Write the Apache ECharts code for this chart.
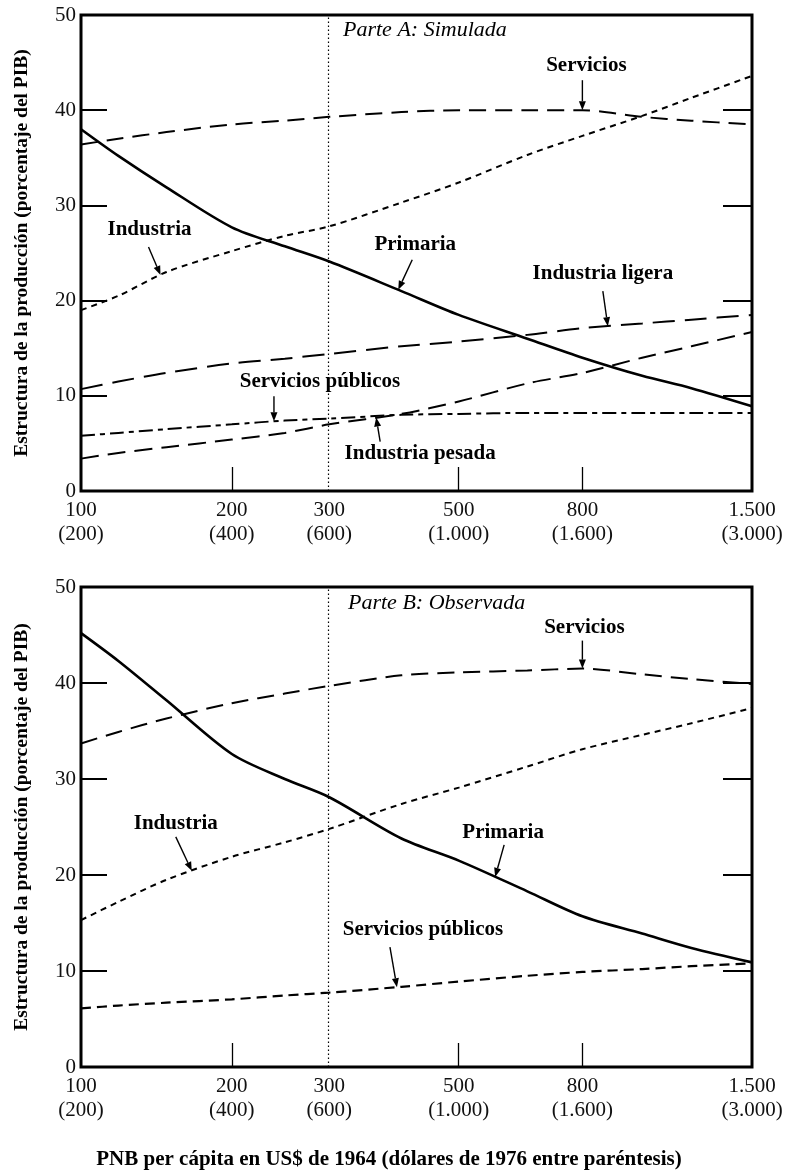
<!DOCTYPE html>
<html>
<head>
<meta charset="utf-8">
<script src="https://cdn.jsdelivr.net/npm/echarts@6/dist/echarts.min.js"></script>
<style>
  html, body { margin: 0; padding: 0; background: #fff; }
  #chart { width: 786px; height: 1175px; }
</style>
</head>
<body>
<div id="chart"></div>
<script>
// GNP per capita (1964 US$) at which each curve is sampled
const gnp = [100, 120, 150, 200, 250, 300, 400, 500, 650, 800, 1000, 1200, 1500];

// Axis tick values and their two-line labels (1964 $ and 1976 $ in parentheses)
const tickGnp = [100, 200, 300, 500, 800, 1500];
const tickLabel1964 = ['100', '200', '300', '500', '800', '1.500'];
const tickLabel1976 = ['(200)', '(400)', '(600)', '(1.000)', '(1.600)', '(3.000)'];
const minorTickGnp = [200, 500, 800];
const referenceGnp = 300;

// Parte A: simulated production structure (% of GDP)
const primariaA   = [38.0, 35.2, 31.9, 27.7, 25.7, 24.1, 21.0, 18.5, 16.0, 14.0, 12.1, 10.8, 8.9];
const serviciosA  = [36.4, 37.0, 37.7, 38.5, 38.9, 39.3, 39.8, 40.0, 40.0, 40.0, 39.3, 38.9, 38.5];
const industriaA  = [19.0, 20.5, 23.0, 25.2, 26.8, 27.8, 30.3, 32.4, 35.3, 37.3, 39.4, 41.3, 43.6];
const ligeraA     = [10.7, 11.5, 12.4, 13.4, 13.9, 14.4, 15.2, 15.7, 16.4, 17.1, 17.6, 18.0, 18.5];
const publicosA   = [5.8, 6.1, 6.5, 7.0, 7.4, 7.6, 8.0, 8.1, 8.2, 8.2, 8.2, 8.2, 8.2];
const pesadaA     = [3.4, 4.0, 4.6, 5.4, 6.1, 7.0, 8.1, 9.4, 11.3, 12.4, 14.0, 15.2, 16.7];

// Parte B: observed production structure (% of GDP)
const primariaB   = [45.2, 42.3, 38.2, 32.6, 30.0, 28.1, 23.8, 21.5, 18.3, 15.7, 13.9, 12.4, 10.9];
const serviciosB  = [33.7, 34.9, 36.3, 37.9, 38.9, 39.7, 40.8, 41.1, 41.3, 41.5, 40.9, 40.4, 39.9];
const industriaB  = [15.3, 17.2, 19.5, 21.9, 23.4, 24.8, 27.4, 29.1, 31.3, 33.1, 34.6, 35.8, 37.4];
const publicosB   = [6.1, 6.4, 6.7, 7.05, 7.45, 7.75, 8.35, 8.9, 9.5, 9.9, 10.2, 10.5, 10.8];

const FONT = '"Liberation Serif", "DejaVu Serif", serif';

// The income axis is logarithmic, offset so the low end is slightly compressed
const scaleX = g => Math.log10(g + 40);

function tickText(v) {
  const i = tickGnp.findIndex(t => Math.abs(scaleX(t) - v) < 1e-6);
  return i < 0 ? '' : tickLabel1964[i] + '\n' + tickLabel1976[i];
}

function xAxis(gridIndex) {
  return {
    type: 'value', gridIndex,
    min: scaleX(tickGnp[0]), max: scaleX(tickGnp[tickGnp.length - 1]),
    axisLine: { show: false },
    splitLine: { show: false },
    axisTick: {
      show: true, inside: true, length: 24,
      customValues: minorTickGnp.map(scaleX),
      lineStyle: { color: '#000', width: 1.3 }
    },
    axisLabel: {
      show: true, customValues: tickGnp.map(scaleX), formatter: tickText,
      fontFamily: FONT, fontSize: 21, lineHeight: 24, color: '#111', margin: 7
    }
  };
}

function yAxis(gridIndex, side) {
  return {
    type: 'value', gridIndex, position: side,
    min: 0, max: 50, interval: 10,
    axisLine: { show: false },
    splitLine: { show: false },
    axisTick: { show: true, inside: true, length: side === 'left' ? 26 : 29,
                lineStyle: { color: '#000', width: 2 } },
    axisLabel: { show: side === 'left', fontFamily: FONT, fontSize: 21, color: '#111', margin: 5 }
  };
}

function curve(name, values, grid, dash, width, withRef) {
  const s = {
    type: 'line', name,
    xAxisIndex: grid, yAxisIndex: grid * 2,
    data: gnp.map((g, i) => [scaleX(g), values[i]]),
    showSymbol: false, smooth: 0.3, silent: true,
    lineStyle: { color: '#000', width, type: dash, cap: 'butt' },
    z: 3
  };
  if (withRef) {
    s.markLine = {
      silent: true, symbol: 'none', label: { show: false },
      lineStyle: { color: '#000', type: [1.5, 2.5], width: 1.2 },
      data: [{ xAxis: scaleX(referenceGnp) }]
    };
  }
  return s;
}

const chart = echarts.init(document.getElementById('chart'), null, { renderer: 'canvas' });

chart.setOption({
  animation: false,
  backgroundColor: '#fff',
  grid: [
    { left: 81, top: 15, width: 671, height: 476, show: true, borderColor: '#000', borderWidth: 3, backgroundColor: 'transparent' },
    { left: 81, top: 587, width: 671, height: 480, show: true, borderColor: '#000', borderWidth: 3, backgroundColor: 'transparent' }
  ],
  xAxis: [xAxis(0), xAxis(1)],
  yAxis: [yAxis(0, 'left'), yAxis(0, 'right'), yAxis(1, 'left'), yAxis(1, 'right')],
  series: [
    curve('Primaria', primariaA, 0, 'solid', 2.6, true),
    curve('Servicios', serviciosA, 0, [17, 9], 2, false),
    curve('Industria', industriaA, 0, [6, 5], 2, false),
    curve('Industria ligera', ligeraA, 0, [22, 10], 2, false),
    curve('Servicios públicos', publicosA, 0, [14, 5, 5, 5], 2, false),
    curve('Industria pesada', pesadaA, 0, [18, 9], 2, false),
    curve('Primaria', primariaB, 1, 'solid', 2.6, true),
    curve('Servicios', serviciosB, 1, [17, 9], 2, false),
    curve('Industria', industriaB, 1, [6, 5], 2, false),
    curve('Servicios públicos', publicosB, 1, [10, 6], 2.2, false)
  ]
});

// Value of a curve at a given income, interpolated on the income scale
function valueAt(values, g) {
  const x = scaleX(g);
  for (let i = 0; i < gnp.length - 1; i++) {
    const x0 = scaleX(gnp[i]), x1 = scaleX(gnp[i + 1]);
    if (x >= x0 && x <= x1) {
      const t = (x - x0) / (x1 - x0);
      return values[i] + t * (values[i + 1] - values[i]);
    }
  }
  return values[values.length - 1];
}

// Curve labels with arrows: `at` is the income the arrow points to,
// `label` and `tail` are pixel offsets from the arrow tip.
const notes = [
  { grid: 0, text: 'Servicios',          values: serviciosA, at: 800, label: [4, -45],  tail: [0, -30] },
  { grid: 0, text: 'Industria',          values: industriaA, at: 146, label: [-11, -45], tail: [-12, -28] },
  { grid: 0, text: 'Primaria',           values: primariaA,  at: 395, label: [17, -45], tail: [14, -30] },
  { grid: 0, text: 'Industria ligera',   values: ligeraA,    at: 880, label: [-5, -53], tail: [-5, -35] },
  { grid: 0, text: 'Servicios públicos', values: publicosA,  at: 239, label: [46, -40], tail: [0, -25] },
  { grid: 0, text: 'Industria pesada',   values: pesadaA,    at: 362, label: [44, 36],  tail: [4, 24] },
  { grid: 1, text: 'Servicios',          values: serviciosB, at: 800, label: [2, -41],  tail: [0, -28] },
  { grid: 1, text: 'Industria',          values: industriaB, at: 168, label: [-16, -47], tail: [-16, -34] },
  { grid: 1, text: 'Primaria',           values: primariaB,  at: 575, label: [8, -44],  tail: [9, -32] },
  { grid: 1, text: 'Servicios públicos', values: publicosB,  at: 393, label: [26, -58], tail: [-7, -40] }
];

const elements = [];

notes.forEach(n => {
  const tip = chart.convertToPixel({ gridIndex: n.grid }, [scaleX(n.at), valueAt(n.values, n.at)]);
  const tail = [tip[0] + n.tail[0], tip[1] + n.tail[1]];
  const dx = tip[0] - tail[0], dy = tip[1] - tail[1];
  const len = Math.hypot(dx, dy);
  const ux = dx / len, uy = dy / len;
  const head = 9, half = 3.5;
  const bx = tip[0] - ux * head, by = tip[1] - uy * head;
  elements.push({
    type: 'line', silent: true, z: 10,
    shape: { x1: tail[0], y1: tail[1], x2: bx, y2: by },
    style: { stroke: '#000', lineWidth: 1.4 }
  });
  elements.push({
    type: 'polygon', silent: true, z: 10,
    shape: { points: [[tip[0], tip[1]], [bx - uy * half, by + ux * half], [bx + uy * half, by - ux * half]] },
    style: { fill: '#000' }
  });
  elements.push({
    type: 'text', silent: true, z: 10,
    x: tip[0] + n.label[0], y: tip[1] + n.label[1],
    style: { text: n.text, font: 'bold 21px ' + FONT, fill: '#000', align: 'center', verticalAlign: 'middle' }
  });
});

// Panel titles
elements.push({
  type: 'text', silent: true, x: 343, y: 30,
  style: { text: 'Parte A: Simulada', font: 'italic 22px ' + FONT, fill: '#000', align: 'left', verticalAlign: 'middle' }
});
elements.push({
  type: 'text', silent: true, x: 348, y: 603,
  style: { text: 'Parte B: Observada', font: 'italic 22px ' + FONT, fill: '#000', align: 'left', verticalAlign: 'middle' }
});

// Vertical axis titles
[253, 827].forEach(cy => {
  elements.push({
    type: 'text', silent: true, x: 22, y: cy, rotation: Math.PI / 2,
    style: { text: 'Estructura de la producción (porcentaje del PIB)', font: 'bold 19.5px ' + FONT,
             fill: '#000', align: 'center', verticalAlign: 'middle' }
  });
});

// Horizontal axis title
elements.push({
  type: 'text', silent: true, x: 389, y: 1160,
  style: { text: 'PNB per cápita en US$ de 1964 (dólares de 1976 entre paréntesis)', font: 'bold 21px ' + FONT,
           fill: '#000', align: 'center', verticalAlign: 'middle' }
});

chart.setOption({ graphic: { elements } });
</script>
</body>
</html>
